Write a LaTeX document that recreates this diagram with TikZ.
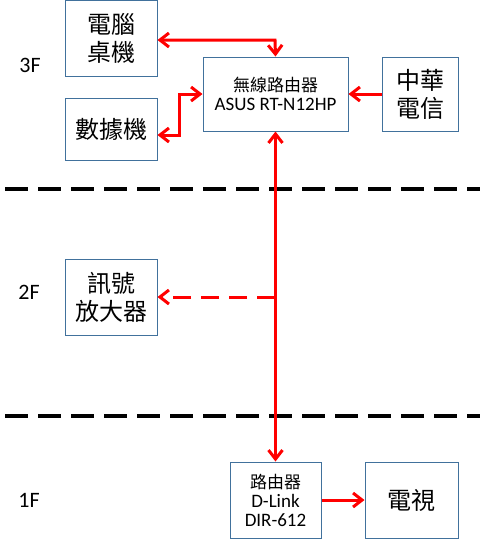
\documentclass[tikz,border=0pt]{standalone}
\usepackage{fontspec}
\setmainfont{Carlito}
\newfontfamily\cjk{Noto Sans CJK TC}
\usetikzlibrary{arrows.meta}
\begin{document}
\begin{tikzpicture}[x=1pt,y=-1pt,
  box/.style={draw=boxblue,line width=1pt,inner sep=0pt,align=center},
  link/.style={draw=red,line width=3pt,arrows={-Straight Barb[length=9pt,width=14pt,line width=3pt]}},
  twolink/.style={draw=red,line width=3pt,arrows={Straight Barb[length=9pt,width=14pt,line width=3pt]-Straight Barb[length=9pt,width=14pt,line width=3pt]}},
  floor/.style={draw=black,line width=4pt,dash pattern=on 23pt off 10pt},
  flab/.style={font=\fontsize{22}{24}\selectfont},
  big/.style={font=\cjk\fontsize{24}{28}\selectfont},
  small/.style={font=\fontsize{19}{19}\selectfont}]
\definecolor{boxblue}{HTML}{41719C}
\useasboundingbox (0,0) rectangle (480,539);
% floor separators
\coordinate (f1a) at (5,189); \coordinate (f1b) at (480,189);
\coordinate (f2a) at (5,416); \coordinate (f2b) at (480,416);
\draw[floor] (f1a) -- (f1b);
\draw[floor] (f2a) -- (f2b);
% floor labels
\node[flab] (l3) at (30,65) {3F};
\node[flab] (l2) at (29,292) {2F};
\node[flab] (l1) at (29,500) {1F};
% boxes
\node[box,big,minimum width=92pt,minimum height=76pt] (pc) at (111,38) {電腦\\桌機};
\node[box,big,minimum width=92pt,minimum height=62pt] (modem) at (111,129) {數據機};
\node[box,small,minimum width=145pt,minimum height=74pt] (wr) at (275.5,94) {{\cjk\fontsize{17}{19}\selectfont 無線路由器}\\ASUS RT-N12HP};
\node[box,big,minimum width=76pt,minimum height=74pt] (cht) at (420,94) {中華\\電信};
\node[box,big,minimum width=92pt,minimum height=76pt] (amp) at (111,297) {訊號\\放大器};
\node[box,small,minimum width=91pt,minimum height=76pt] (dl) at (275.5,500) {{\cjk\fontsize{17}{19}\selectfont 路由器}\\D-Link\\DIR-612};
\node[box,big,minimum width=93pt,minimum height=76pt] (tv) at (411.5,500) {電視};
% connectors
\coordinate (pcbend) at (275,40);
\draw[twolink] (pc.east |- pcbend) -- (pcbend) -- (wr.north);
\coordinate (mb1) at (179,94);
\coordinate (mb2) at (179,135);
\draw[twolink] (wr.west |- mb1) -- (mb1) -- (mb2) -- (modem.east |- mb2);
\draw[link] (cht.west) -- (wr.east);
\draw[twolink] (wr.south) -- (dl.north);
\coordinate (tap) at (275,297);
\draw[link,dash pattern=on 18pt off 10pt] (tap) -- (amp.east);
\draw[link] (dl.east) -- (tv.west);
\end{tikzpicture}
\end{document}
